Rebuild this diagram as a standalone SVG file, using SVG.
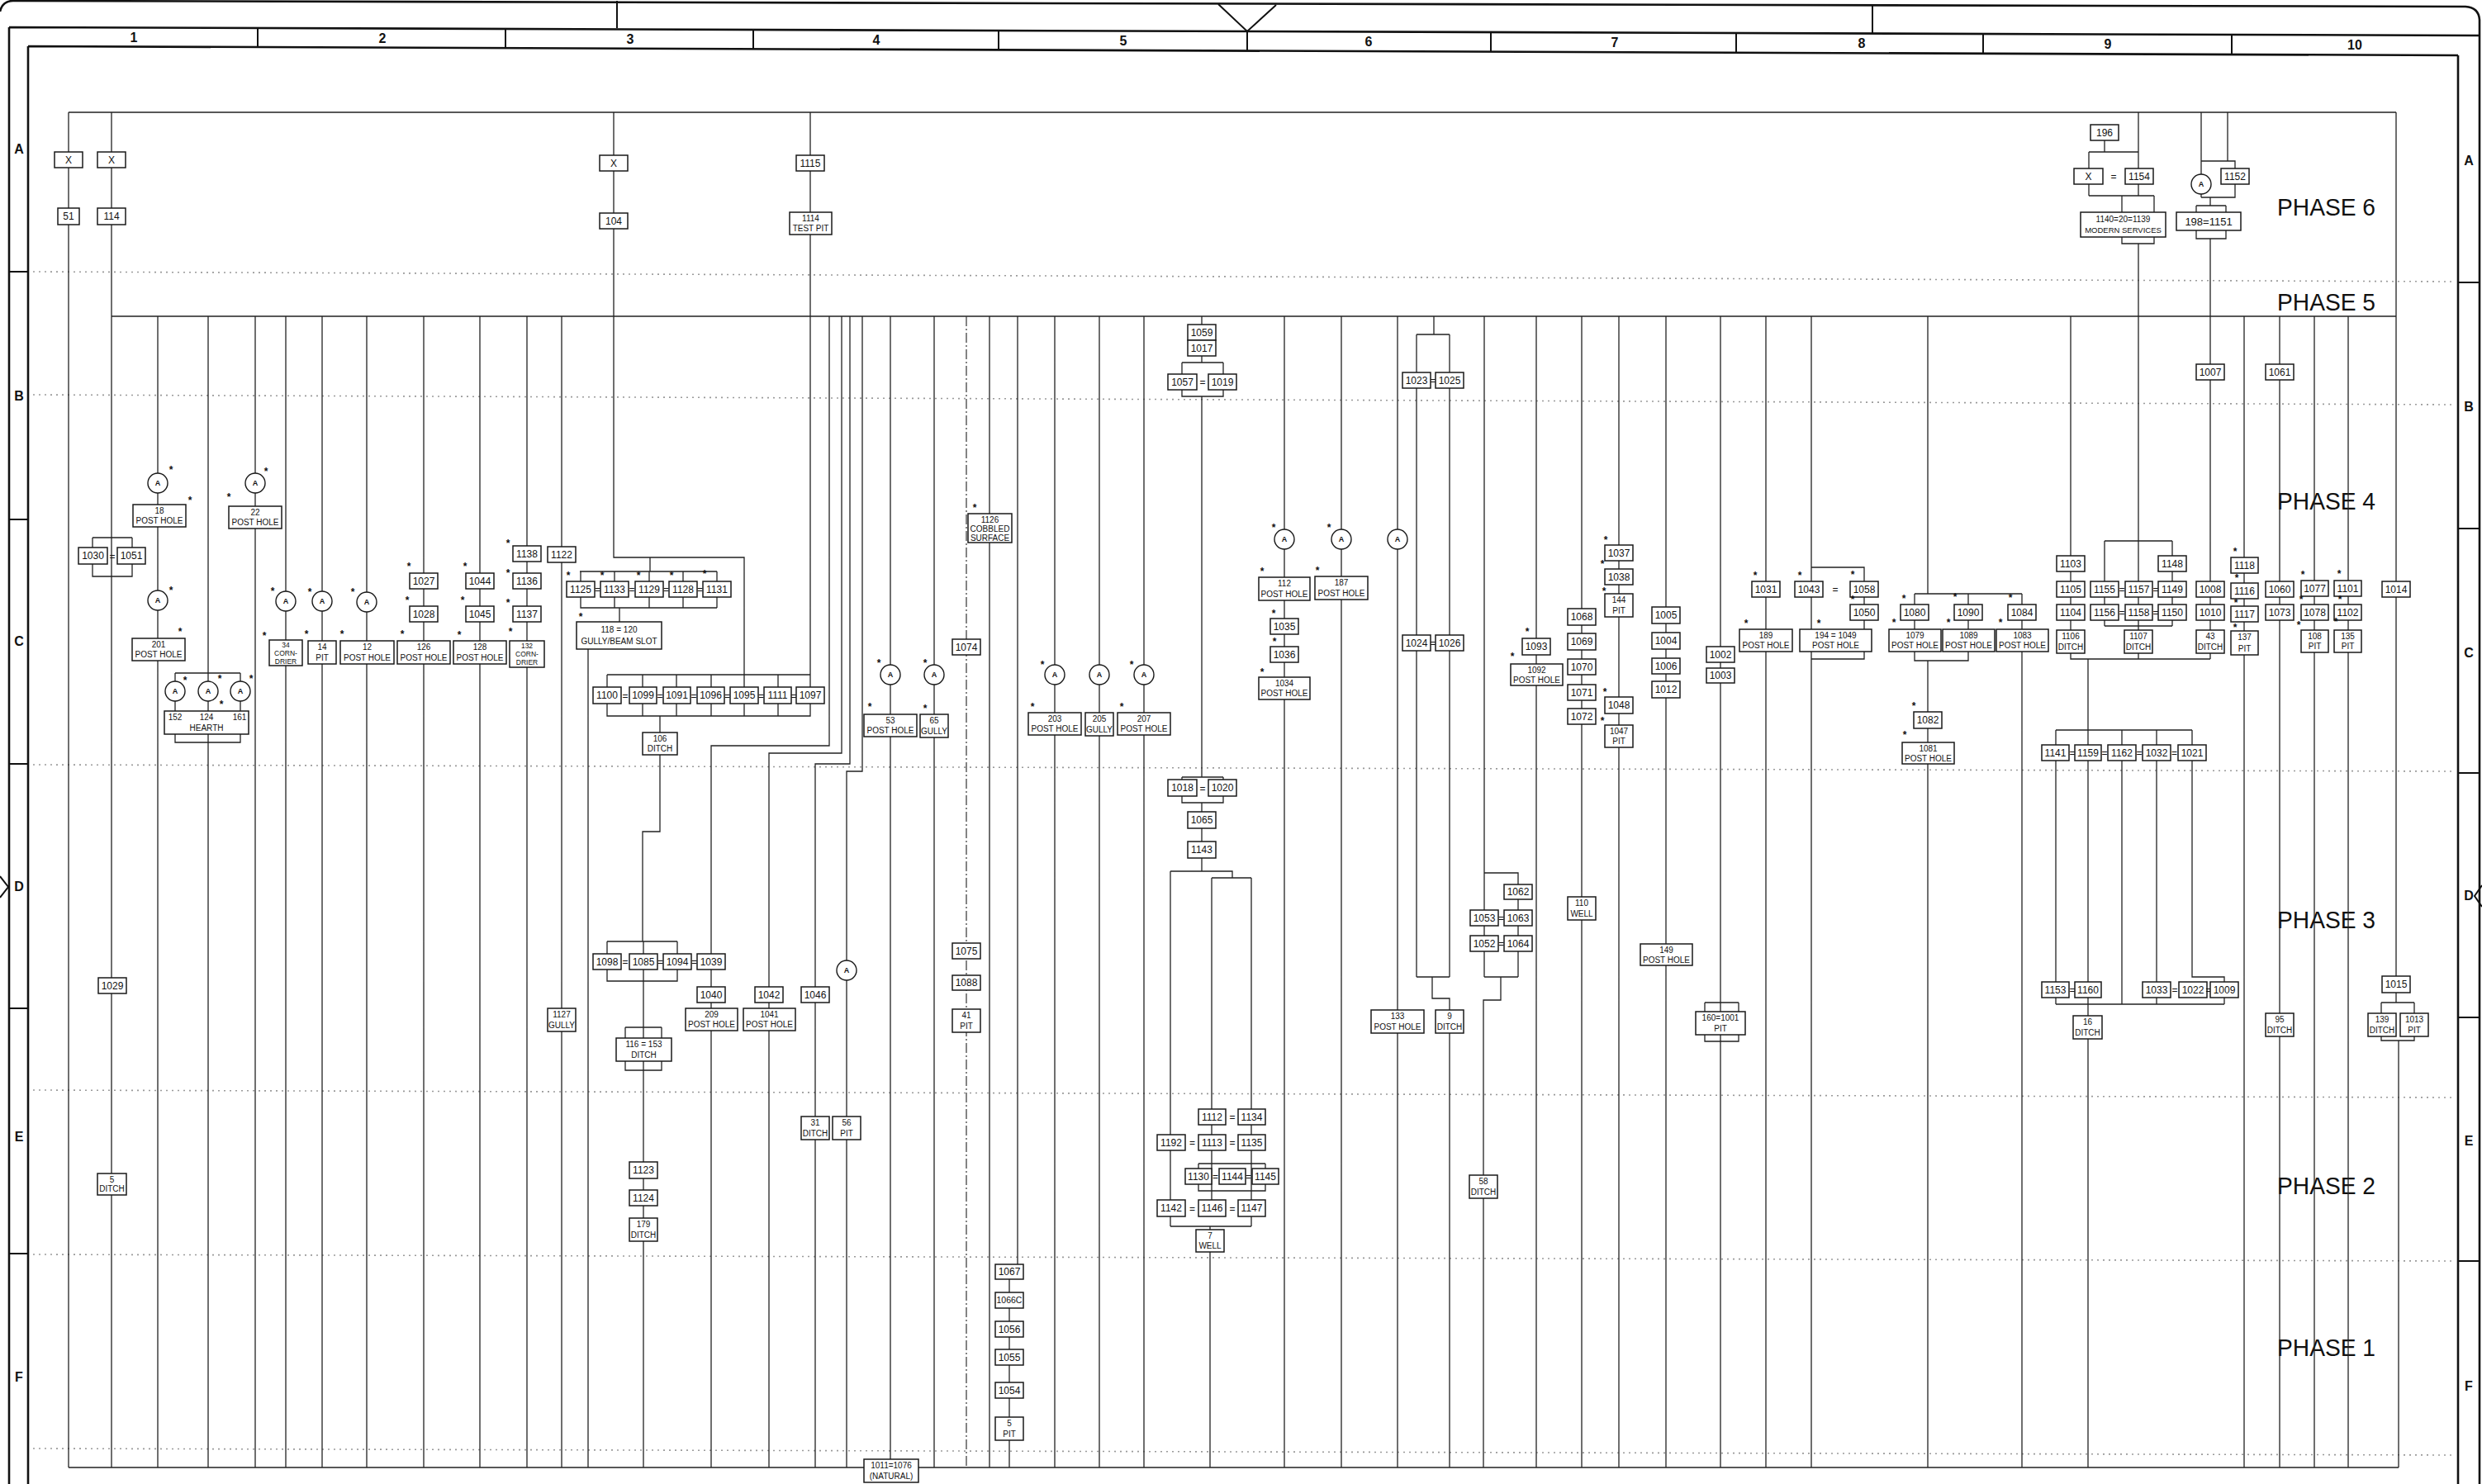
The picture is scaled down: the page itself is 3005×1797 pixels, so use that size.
<svg xmlns="http://www.w3.org/2000/svg" width="3005" height="1797" viewBox="0 0 3005 1797">
<style>
.fr{fill:none;stroke:#111;stroke-width:2.6}
.fr2{fill:none;stroke:#111;stroke-width:2}
.gd{fill:none;stroke:#9a9a9a;stroke-width:1.6;stroke-dasharray:2 5}
.l{fill:none;stroke:#222;stroke-width:1.3}
.dd{fill:none;stroke:#333;stroke-width:1.2;stroke-dasharray:12 3 2 3}
.b{fill:#fff;stroke:#1a1a1a;stroke-width:1.5}
.c{fill:#fff;stroke:#1a1a1a;stroke-width:1.4}
text{font-family:"Liberation Sans",Arial,sans-serif;fill:#111}
.t{font-size:12px;text-anchor:middle}
.t2{font-size:10px;text-anchor:middle}
.t3{font-size:8.5px;text-anchor:middle}
.ca{font-size:9px;text-anchor:middle;font-weight:bold}
.eq{font-size:12px;text-anchor:middle}
.s{font-size:12px;font-weight:bold;text-anchor:middle}
.ph{font-size:29px}
.hd{font-size:16px;font-weight:bold;text-anchor:middle}
</style>
<rect width="3005" height="1797" fill="#fff"/>
<g id="frame">
<path class="fr" d="M0 14Q3 1 16 1L2985 8Q3001 9 3002 24V1797 M11 33L3002 43 M11 33V1797 M34 56L2976 67 M34 56V1797 M2976 67V1797"/>
<path class="fr2" d="M312 34V57 M612 35V58 M912 36V59 M1209 37V60 M1510 38V61 M1805 39V63 M2102 40V64 M2401 41V65 M2702 42V66 M747 1V34 M2267 7V41 M1475 5L1510 38L1545 6 M11 329H34 M11 629H34 M11 925H34 M11 1221H34 M11 1518H34 M2976 342H3002 M2976 640H3002 M2976 936H3002 M2976 1232H3002 M2976 1527H3002 M0 1061L10 1074L0 1087 M3005 1072L2996 1085L3005 1098"/>
<text class="hd" x="162" y="51">1</text><text class="hd" x="463" y="52">2</text><text class="hd" x="763" y="53">3</text><text class="hd" x="1061" y="54">4</text><text class="hd" x="1360" y="55">5</text><text class="hd" x="1657" y="56">6</text><text class="hd" x="1955" y="57">7</text><text class="hd" x="2254" y="58">8</text><text class="hd" x="2552" y="59">9</text><text class="hd" x="2851" y="60">10</text>
<text class="hd" x="23" y="186">A</text><text class="hd" x="23" y="485">B</text><text class="hd" x="23" y="782">C</text><text class="hd" x="23" y="1079">D</text><text class="hd" x="23" y="1382">E</text><text class="hd" x="23" y="1673">F</text>
<text class="hd" x="2989" y="200">A</text><text class="hd" x="2989" y="498">B</text><text class="hd" x="2989" y="796">C</text><text class="hd" x="2989" y="1090">D</text><text class="hd" x="2989" y="1387">E</text><text class="hd" x="2989" y="1684">F</text>
</g>
<g id="guides">
<path class="gd" d="M40 329L2970 341 M40 478L2970 490 M40 926L2970 934 M40 1320L2970 1329 M40 1519L2970 1527 M40 1754L2970 1762"/>
</g>
<g id="phases">
<text class="ph" x="2757" y="261" textLength="119" lengthAdjust="spacingAndGlyphs">PHASE 6</text>
<text class="ph" x="2757" y="376" textLength="119" lengthAdjust="spacingAndGlyphs">PHASE 5</text>
<text class="ph" x="2757" y="617" textLength="119" lengthAdjust="spacingAndGlyphs">PHASE 4</text>
<text class="ph" x="2757" y="1124" textLength="119" lengthAdjust="spacingAndGlyphs">PHASE 3</text>
<text class="ph" x="2757" y="1446" textLength="119" lengthAdjust="spacingAndGlyphs">PHASE 2</text>
<text class="ph" x="2757" y="1642" textLength="119" lengthAdjust="spacingAndGlyphs">PHASE 1</text>
</g>
<g id="connectors">
<path class="l" d="M83 136H2901 M135 383H2901 M83 1777H2904 M83 136V1777 M135 136V1777 M112 651H160 M112 651V663 M160 651V663 M112 683V698H160V683 M743 136V675H901V817 M787 675V692 M981 136V832 M2901 136V1214 M2883 1214H2923 M2883 1214V1227 M2923 1214V1227 M2883 1255V1260H2923V1255 M2904 1260V1777 M191 383V1777 M252 383V1777 M309 383V1777 M346 383V1777 M390 383V1777 M444 383V1777 M513 383V1777 M581 383V1777 M638 383V1777 M680 383V1777 M212 815H291 M212 815V861 M291 815V861 M212 889V899H291V889 M712 786V1777 M702 692H868 M703 692V704 M744 692V704 M786 692V704 M827 692V704 M868 692V704 M703 723V736H868 M744 723V736 M786 723V736 M827 723V736 M868 723V736 M750 736V753 M735 817H981 M735 817V832 M778 817V832 M819 817V832 M861 817V832 M901 817V832 M942 817V832 M735 852V867H981V852 M778 852V867 M819 852V867 M861 852V867 M901 852V867 M942 852V867 M799 867V887 M799 914V1007H778V1140 M735 1140H820 M735 1140V1155 M779 1140V1155 M820 1140V1155 M735 1174V1188H820V1174 M779 1174V1257 M757 1244H801 M757 1244V1257 M801 1244V1257 M757 1285V1296H801V1285 M779 1285V1777 M1004 383V903H861V1777 M1019 383V912H931V1777 M1029 383V925H987V1777 M1044 383V934H1025V1777 M1078 383V1767 M1131 383V1777 M1198 383V1777 M1232 383V1531 M1222 1531V1777 M1277 383V1777 M1331 383V1777 M1385 383V1777 M1455 383V439 M1431 439H1481 M1431 439V453 M1481 439V453 M1431 472V480H1481V472 M1455 480V941 M1431 941H1481 M1431 941V944 M1481 941V944 M1431 964V972H1481V964 M1455 972V1055 M1417 1055H1492V1063 M1467 1063H1515 M1417 1055V1485 M1467 1063V1473 M1515 1063V1485 M1417 1485H1515 M1465 1485V1777 M1451 1409H1532 M1451 1409V1415 M1532 1409V1415 M1451 1434V1442H1532V1434 M1555 383V1777 M1624 383V1777 M1692 383V1777 M1736 383V405 M1715 405H1755 M1715 405V1183 M1755 405V1183 M1715 1183H1755 M1734 1183V1209H1755V1777 M1797 383V1183 M1797 1057H1838V1183 M1797 1183H1838 M1817 1183V1211H1796V1777 M1860 383V1777 M1915 383V1777 M1960 383V1777 M2017 383V1777 M2083 383V1777 M2138 383V1777 M2193 383V1777 M2064 1214H2105 M2064 1214V1225 M2105 1214V1225 M2064 1253V1261H2105V1253 M2193 687H2257V798H2193 M2334 383V719 M2318 719H2448 M2318 719V762 M2383 719V762 M2448 719V1777 M2318 789V800H2383V789 M2334 800V1777 M2507 383V798H2676 M2589 136V184 M2548 170V184 M2529 184H2589 M2529 184V237 M2589 184V237 M2529 237H2608 M2569 237V295H2608V237 M2589 295V655 M2548 655H2630 M2548 655V758 M2589 655V798 M2630 655V758 M2548 758H2630 M2665 136V211 M2665 235V239 M2697 136V195 M2665 195H2706V239H2665 M2676 239V249 M2659 249H2695 M2659 249V257 M2695 249V257 M2659 279V289H2695V279 M2676 289V798 M2528 798V884 M2489 884H2654 M2489 884V1216 M2528 884V1216 M2569 884V1216 M2611 884V1216 M2654 884V1183H2693V1216 M2489 1216H2693 M2528 1216V1777 M2717 383V1777 M2760 383V1777 M2802 383V1777 M2843 383V1777"/>
<path class="dd" d="M1170 383V1777"/>
</g>
<g id="nodes">
<g id="nX1"><rect class="b" x="66" y="184" width="34" height="19"/><text class="t" x="83" y="198">X</text></g>
<g id="nX2"><rect class="b" x="118" y="184" width="34" height="19"/><text class="t" x="135" y="198">X</text></g>
<g id="n51"><rect class="b" x="70" y="252" width="26" height="20"/><text class="t" x="83" y="266">51</text></g>
<g id="n114"><rect class="b" x="118" y="252" width="34" height="20"/><text class="t" x="135" y="266">114</text></g>
<g id="nX3"><rect class="b" x="726" y="188" width="34" height="19"/><text class="t" x="743" y="202">X</text></g>
<g id="n104"><rect class="b" x="726" y="258" width="34" height="19"/><text class="t" x="743" y="272">104</text></g>
<g id="n1115"><rect class="b" x="964" y="188" width="34" height="19"/><text class="t" x="981" y="202">1115</text></g>
<g id="n1114"><rect class="b" x="956" y="257" width="51" height="27"/><text class="t2" x="981.5" y="268">1114</text><text class="t2" x="981.5" y="280">TEST PIT</text></g>
<g id="n196"><rect class="b" x="2531" y="151" width="34" height="19"/><text class="t" x="2548" y="165">196</text></g>
<g id="nX4"><rect class="b" x="2511" y="204" width="35" height="19"/><text class="t" x="2528.5" y="218">X</text><text class="eq" x="2559" y="218">=</text></g>
<g id="n1154"><rect class="b" x="2573" y="204" width="34" height="19"/><text class="t" x="2590" y="218">1154</text></g>
<g id="n1140"><rect class="b" x="2519" y="257" width="103" height="30"/><text class="t2" x="2570.5" y="269">1140=20=1139</text><text class="t2" x="2570.5" y="282" style="font-size:9.5px">MODERN SERVICES</text></g>
<g id="n1152"><rect class="b" x="2689" y="204" width="34" height="19"/><text class="t" x="2706" y="218">1152</text></g>
<g id="n198"><rect class="b" x="2635" y="257" width="78" height="22"/><text class="t" x="2674" y="272.5" style="font-size:13px">198=1151</text></g>
<g id="n1007"><rect class="b" x="2659" y="441" width="34" height="19"/><text class="t" x="2676" y="455">1007</text></g>
<g id="n1061"><rect class="b" x="2743" y="441" width="34" height="19"/><text class="t" x="2760" y="455">1061</text></g>
<g id="n1059"><rect class="b" x="1438" y="393" width="34" height="19"/><text class="t" x="1455" y="407">1059</text></g>
<g id="n1017"><rect class="b" x="1438" y="412" width="34" height="19"/><text class="t" x="1455" y="426">1017</text></g>
<g id="n1057"><rect class="b" x="1414" y="453" width="35" height="19"/><text class="t" x="1431.5" y="467">1057</text><text class="eq" x="1456" y="467">=</text></g>
<g id="n1019"><rect class="b" x="1463" y="453" width="34" height="19"/><text class="t" x="1480" y="467">1019</text></g>
<g id="n1023"><rect class="b" x="1698" y="451" width="34" height="19"/><text class="t" x="1715" y="465">1023</text><text class="eq" x="1735" y="465">=</text></g>
<g id="n1025"><rect class="b" x="1738" y="451" width="34" height="19"/><text class="t" x="1755" y="465">1025</text></g>
<g id="n18"><rect class="b" x="161" y="611" width="64" height="27"/><text class="t2" x="193" y="622">18</text><text class="t2" x="193" y="634">POST HOLE</text></g>
<g id="n22"><rect class="b" x="277" y="613" width="64" height="27"/><text class="t2" x="309" y="624">22</text><text class="t2" x="309" y="636">POST HOLE</text></g>
<g id="n1030"><rect class="b" x="95" y="663" width="35" height="20"/><text class="t" x="112.5" y="677">1030</text><text class="eq" x="136" y="678">=</text></g>
<g id="n1051"><rect class="b" x="142" y="663" width="34" height="20"/><text class="t" x="159" y="677">1051</text></g>
<g id="n201"><rect class="b" x="160" y="773" width="64" height="27"/><text class="t2" x="192" y="784">201</text><text class="t2" x="192" y="796">POST HOLE</text></g>
<g id="nHearth"><rect class="b" x="199" y="861" width="102" height="28"/><text class="t2" x="212" y="872">152</text><text class="t2" x="250" y="872">124</text><text class="t2" x="290" y="872">161</text><text class="t2" x="250" y="885">HEARTH</text></g>
<g id="n1029"><rect class="b" x="119" y="1184" width="34" height="19"/><text class="t" x="136" y="1198">1029</text></g>
<g id="n5d"><rect class="b" x="118" y="1421" width="35" height="26"/><text class="t2" x="135.5" y="1432">5</text><text class="t2" x="135.5" y="1443">DITCH</text></g>
<g id="n34"><rect class="b" x="326" y="775" width="40" height="31"/><text class="t3" x="346" y="784">34</text><text class="t3" x="346" y="794">CORN-</text><text class="t3" x="346" y="804">DRIER</text></g>
<g id="n14"><rect class="b" x="373" y="776" width="34" height="28"/><text class="t2" x="390" y="787">14</text><text class="t2" x="390" y="800">PIT</text></g>
<g id="n12"><rect class="b" x="412" y="776" width="65" height="28"/><text class="t2" x="444.5" y="787">12</text><text class="t2" x="444.5" y="800">POST HOLE</text></g>
<g id="n1027"><rect class="b" x="496" y="694" width="34" height="19"/><text class="t" x="513" y="708">1027</text></g>
<g id="n1028"><rect class="b" x="496" y="734" width="34" height="19"/><text class="t" x="513" y="748">1028</text></g>
<g id="n126"><rect class="b" x="481" y="776" width="64" height="28"/><text class="t2" x="513" y="787">126</text><text class="t2" x="513" y="800">POST HOLE</text></g>
<g id="n1044"><rect class="b" x="564" y="694" width="34" height="19"/><text class="t" x="581" y="708">1044</text></g>
<g id="n1045"><rect class="b" x="564" y="734" width="34" height="19"/><text class="t" x="581" y="748">1045</text></g>
<g id="n128"><rect class="b" x="549" y="776" width="64" height="28"/><text class="t2" x="581" y="787">128</text><text class="t2" x="581" y="800">POST HOLE</text></g>
<g id="n1138"><rect class="b" x="621" y="661" width="34" height="19"/><text class="t" x="638" y="675">1138</text></g>
<g id="n1136"><rect class="b" x="621" y="694" width="34" height="19"/><text class="t" x="638" y="708">1136</text></g>
<g id="n1137"><rect class="b" x="621" y="734" width="34" height="19"/><text class="t" x="638" y="748">1137</text></g>
<g id="n132"><rect class="b" x="617" y="776" width="42" height="32"/><text class="t3" x="638" y="785">132</text><text class="t3" x="638" y="795">CORN-</text><text class="t3" x="638" y="805">DRIER</text></g>
<g id="n1122"><rect class="b" x="663" y="662" width="34" height="19"/><text class="t" x="680" y="676">1122</text></g>
<g id="n1127"><rect class="b" x="663" y="1221" width="34" height="28"/><text class="t2" x="680" y="1232">1127</text><text class="t2" x="680" y="1245">GULLY</text></g>
<g id="n1125"><rect class="b" x="686" y="704" width="34" height="19"/><text class="t" x="703" y="718">1125</text><text class="eq" x="723.5" y="718">=</text></g>
<g id="n1133"><rect class="b" x="727" y="704" width="34" height="19"/><text class="t" x="744" y="718">1133</text><text class="eq" x="765" y="718">=</text></g>
<g id="n1129"><rect class="b" x="769" y="704" width="34" height="19"/><text class="t" x="786" y="718">1129</text><text class="eq" x="806.5" y="718">=</text></g>
<g id="n1128"><rect class="b" x="810" y="704" width="34" height="19"/><text class="t" x="827" y="718">1128</text><text class="eq" x="847.5" y="718">=</text></g>
<g id="n1131"><rect class="b" x="851" y="704" width="34" height="19"/><text class="t" x="868" y="718">1131</text></g>
<g id="n118"><rect class="b" x="698" y="753" width="103" height="33"/><text class="t2" x="749.5" y="766">118 = 120</text><text class="t2" x="749.5" y="780">GULLY/BEAM SLOT</text></g>
<g id="n1100"><rect class="b" x="718" y="832" width="34" height="20"/><text class="t" x="735" y="846">1100</text><text class="eq" x="757" y="847">=</text></g>
<g id="n1099"><rect class="b" x="762" y="832" width="33" height="20"/><text class="t" x="778.5" y="846">1099</text><text class="eq" x="799" y="847">=</text></g>
<g id="n1091"><rect class="b" x="803" y="832" width="33" height="20"/><text class="t" x="819.5" y="846">1091</text><text class="eq" x="840" y="847">=</text></g>
<g id="n1096"><rect class="b" x="844" y="832" width="33" height="20"/><text class="t" x="860.5" y="846">1096</text><text class="eq" x="880.5" y="847">=</text></g>
<g id="n1095"><rect class="b" x="884" y="832" width="34" height="20"/><text class="t" x="901" y="846">1095</text><text class="eq" x="921.5" y="847">=</text></g>
<g id="n1111"><rect class="b" x="925" y="832" width="33" height="20"/><text class="t" x="941.5" y="846">1111</text><text class="eq" x="961" y="847">=</text></g>
<g id="n1097"><rect class="b" x="964" y="832" width="34" height="20"/><text class="t" x="981" y="846">1097</text></g>
<g id="n106"><rect class="b" x="778" y="887" width="42" height="27"/><text class="t2" x="799" y="898">106</text><text class="t2" x="799" y="910">DITCH</text></g>
<g id="n1098"><rect class="b" x="718" y="1155" width="34" height="19"/><text class="t" x="735" y="1169">1098</text><text class="eq" x="757" y="1169">=</text></g>
<g id="n1085"><rect class="b" x="762" y="1155" width="34" height="19"/><text class="t" x="779" y="1169">1085</text><text class="eq" x="799.5" y="1169">=</text></g>
<g id="n1094"><rect class="b" x="803" y="1155" width="34" height="19"/><text class="t" x="820" y="1169">1094</text><text class="eq" x="840.5" y="1169">=</text></g>
<g id="n1039"><rect class="b" x="844" y="1155" width="34" height="19"/><text class="t" x="861" y="1169">1039</text></g>
<g id="n1040"><rect class="b" x="844" y="1195" width="34" height="19"/><text class="t" x="861" y="1209">1040</text></g>
<g id="n209"><rect class="b" x="830" y="1221" width="63" height="27"/><text class="t2" x="861.5" y="1232">209</text><text class="t2" x="861.5" y="1244">POST HOLE</text></g>
<g id="n1042"><rect class="b" x="914" y="1195" width="34" height="19"/><text class="t" x="931" y="1209">1042</text></g>
<g id="n1041"><rect class="b" x="900" y="1221" width="63" height="27"/><text class="t2" x="931.5" y="1232">1041</text><text class="t2" x="931.5" y="1244">POST HOLE</text></g>
<g id="n1046"><rect class="b" x="970" y="1195" width="34" height="19"/><text class="t" x="987" y="1209">1046</text></g>
<g id="n31"><rect class="b" x="970" y="1352" width="34" height="28"/><text class="t2" x="987" y="1363">31</text><text class="t2" x="987" y="1376">DITCH</text></g>
<g id="n56"><rect class="b" x="1008" y="1352" width="34" height="28"/><text class="t2" x="1025" y="1363">56</text><text class="t2" x="1025" y="1376">PIT</text></g>
<g id="n116"><rect class="b" x="746" y="1257" width="67" height="28"/><text class="t2" x="779.5" y="1268">116 = 153</text><text class="t2" x="779.5" y="1281">DITCH</text></g>
<g id="n1123"><rect class="b" x="762" y="1407" width="34" height="20"/><text class="t" x="779" y="1421">1123</text></g>
<g id="n1124"><rect class="b" x="762" y="1441" width="34" height="19"/><text class="t" x="779" y="1455">1124</text></g>
<g id="n179"><rect class="b" x="762" y="1475" width="34" height="28"/><text class="t2" x="779" y="1486">179</text><text class="t2" x="779" y="1499">DITCH</text></g>
<g id="n53"><rect class="b" x="1046" y="865" width="64" height="27"/><text class="t2" x="1078" y="876">53</text><text class="t2" x="1078" y="888">POST HOLE</text></g>
<g id="n65"><rect class="b" x="1114" y="865" width="34" height="28"/><text class="t2" x="1131" y="876">65</text><text class="t2" x="1131" y="889">GULLY</text></g>
<g id="n1126"><rect class="b" x="1172" y="622" width="53" height="35"/><text class="t2" x="1198.5" y="633">1126</text><text class="t2" x="1198.5" y="644">COBBLED</text><text class="t2" x="1198.5" y="655">SURFACE</text></g>
<g id="n1074"><rect class="b" x="1153" y="774" width="34" height="19"/><text class="t" x="1170" y="788">1074</text></g>
<g id="n1075"><rect class="b" x="1153" y="1142" width="34" height="19"/><text class="t" x="1170" y="1156">1075</text></g>
<g id="n1088"><rect class="b" x="1153" y="1181" width="34" height="18"/><text class="t" x="1170" y="1194">1088</text></g>
<g id="n41"><rect class="b" x="1153" y="1222" width="34" height="28"/><text class="t2" x="1170" y="1233">41</text><text class="t2" x="1170" y="1246">PIT</text></g>
<g id="n1067"><rect class="b" x="1205" y="1531" width="34" height="18"/><text class="t" x="1222" y="1544">1067</text></g>
<g id="n1066C"><rect class="b" x="1205" y="1565" width="34" height="19"/><text class="t" x="1222" y="1578" style="font-size:10.5px">1066C</text></g>
<g id="n1056"><rect class="b" x="1205" y="1600" width="34" height="19"/><text class="t" x="1222" y="1614">1056</text></g>
<g id="n1055"><rect class="b" x="1205" y="1634" width="34" height="19"/><text class="t" x="1222" y="1648">1055</text></g>
<g id="n1054"><rect class="b" x="1205" y="1674" width="34" height="19"/><text class="t" x="1222" y="1688">1054</text></g>
<g id="n5p"><rect class="b" x="1205" y="1716" width="34" height="28"/><text class="t2" x="1222" y="1727">5</text><text class="t2" x="1222" y="1740">PIT</text></g>
<g id="n203"><rect class="b" x="1245" y="863" width="64" height="27"/><text class="t2" x="1277" y="874">203</text><text class="t2" x="1277" y="886">POST HOLE</text></g>
<g id="n205"><rect class="b" x="1314" y="863" width="34" height="28"/><text class="t2" x="1331" y="874">205</text><text class="t2" x="1331" y="887">GULLY</text></g>
<g id="n207"><rect class="b" x="1353" y="863" width="64" height="27"/><text class="t2" x="1385" y="874">207</text><text class="t2" x="1385" y="886">POST HOLE</text></g>
<g id="n1018"><rect class="b" x="1414" y="944" width="35" height="20"/><text class="t" x="1431.5" y="958">1018</text><text class="eq" x="1456" y="959">=</text></g>
<g id="n1020"><rect class="b" x="1463" y="944" width="34" height="20"/><text class="t" x="1480" y="958">1020</text></g>
<g id="n1065"><rect class="b" x="1438" y="983" width="34" height="20"/><text class="t" x="1455" y="997">1065</text></g>
<g id="n1143"><rect class="b" x="1438" y="1019" width="34" height="20"/><text class="t" x="1455" y="1033">1143</text></g>
<g id="n1112"><rect class="b" x="1451" y="1343" width="33" height="19"/><text class="t" x="1467.5" y="1357">1112</text><text class="eq" x="1492" y="1357">=</text></g>
<g id="n1134"><rect class="b" x="1499" y="1343" width="33" height="19"/><text class="t" x="1515.5" y="1357">1134</text></g>
<g id="n1192"><rect class="b" x="1401" y="1374" width="34" height="19"/><text class="t" x="1418" y="1388">1192</text><text class="eq" x="1443.5" y="1388">=</text></g>
<g id="n1113"><rect class="b" x="1451" y="1374" width="33" height="19"/><text class="t" x="1467.5" y="1388">1113</text><text class="eq" x="1492" y="1388">=</text></g>
<g id="n1135"><rect class="b" x="1499" y="1374" width="33" height="19"/><text class="t" x="1515.5" y="1388">1135</text></g>
<g id="n1130"><rect class="b" x="1435" y="1415" width="32" height="19"/><text class="t" x="1451" y="1429">1130</text><text class="eq" x="1471.5" y="1429">=</text></g>
<g id="n1144"><rect class="b" x="1476" y="1415" width="32" height="19"/><text class="t" x="1492" y="1429">1144</text><text class="eq" x="1511.5" y="1429">=</text></g>
<g id="n1145"><rect class="b" x="1516" y="1415" width="32" height="19"/><text class="t" x="1532" y="1429">1145</text></g>
<g id="n1142"><rect class="b" x="1401" y="1453" width="34" height="20"/><text class="t" x="1418" y="1467">1142</text><text class="eq" x="1443.5" y="1468">=</text></g>
<g id="n1146"><rect class="b" x="1451" y="1453" width="33" height="20"/><text class="t" x="1467.5" y="1467">1146</text><text class="eq" x="1492" y="1468">=</text></g>
<g id="n1147"><rect class="b" x="1499" y="1453" width="33" height="20"/><text class="t" x="1515.5" y="1467">1147</text></g>
<g id="n7"><rect class="b" x="1448" y="1489" width="34" height="27"/><text class="t2" x="1465" y="1500">7</text><text class="t2" x="1465" y="1512">WELL</text></g>
<g id="n112"><rect class="b" x="1524" y="699" width="62" height="28"/><text class="t2" x="1555" y="710">112</text><text class="t2" x="1555" y="723">POST HOLE</text></g>
<g id="n1035"><rect class="b" x="1538" y="749" width="34" height="19"/><text class="t" x="1555" y="763">1035</text></g>
<g id="n1036"><rect class="b" x="1538" y="783" width="34" height="19"/><text class="t" x="1555" y="797">1036</text></g>
<g id="n1034"><rect class="b" x="1524" y="820" width="62" height="27"/><text class="t2" x="1555" y="831">1034</text><text class="t2" x="1555" y="843">POST HOLE</text></g>
<g id="n187"><rect class="b" x="1592" y="698" width="64" height="28"/><text class="t2" x="1624" y="709">187</text><text class="t2" x="1624" y="722">POST HOLE</text></g>
<g id="n133"><rect class="b" x="1660" y="1223" width="64" height="28"/><text class="t2" x="1692" y="1234">133</text><text class="t2" x="1692" y="1247">POST HOLE</text></g>
<g id="n1024"><rect class="b" x="1698" y="769" width="34" height="19"/><text class="t" x="1715" y="783">1024</text><text class="eq" x="1735" y="783">=</text></g>
<g id="n1026"><rect class="b" x="1738" y="769" width="34" height="19"/><text class="t" x="1755" y="783">1026</text></g>
<g id="n9"><rect class="b" x="1738" y="1223" width="34" height="28"/><text class="t2" x="1755" y="1234">9</text><text class="t2" x="1755" y="1247">DITCH</text></g>
<g id="n1062"><rect class="b" x="1821" y="1071" width="34" height="18"/><text class="t" x="1838" y="1084">1062</text></g>
<g id="n1053"><rect class="b" x="1780" y="1102" width="34" height="19"/><text class="t" x="1797" y="1116">1053</text><text class="eq" x="1817.5" y="1116">=</text></g>
<g id="n1063"><rect class="b" x="1821" y="1102" width="34" height="19"/><text class="t" x="1838" y="1116">1063</text></g>
<g id="n1052"><rect class="b" x="1780" y="1133" width="34" height="19"/><text class="t" x="1797" y="1147">1052</text><text class="eq" x="1817.5" y="1147">=</text></g>
<g id="n1064"><rect class="b" x="1821" y="1133" width="34" height="19"/><text class="t" x="1838" y="1147">1064</text></g>
<g id="n58"><rect class="b" x="1779" y="1423" width="34" height="28"/><text class="t2" x="1796" y="1434">58</text><text class="t2" x="1796" y="1447">DITCH</text></g>
<g id="n1093"><rect class="b" x="1843" y="773" width="34" height="20"/><text class="t" x="1860" y="787">1093</text></g>
<g id="n1092"><rect class="b" x="1829" y="804" width="63" height="26"/><text class="t2" x="1860.5" y="815">1092</text><text class="t2" x="1860.5" y="827">POST HOLE</text></g>
<g id="n1068"><rect class="b" x="1898" y="737" width="34" height="20"/><text class="t" x="1915" y="751">1068</text></g>
<g id="n1069"><rect class="b" x="1898" y="767" width="34" height="20"/><text class="t" x="1915" y="781">1069</text></g>
<g id="n1070"><rect class="b" x="1898" y="798" width="34" height="19"/><text class="t" x="1915" y="812">1070</text></g>
<g id="n1071"><rect class="b" x="1898" y="829" width="34" height="19"/><text class="t" x="1915" y="843">1071</text></g>
<g id="n1072"><rect class="b" x="1898" y="858" width="34" height="19"/><text class="t" x="1915" y="872">1072</text></g>
<g id="n110"><rect class="b" x="1898" y="1086" width="34" height="28"/><text class="t2" x="1915" y="1097">110</text><text class="t2" x="1915" y="1110">WELL</text></g>
<g id="n1037"><rect class="b" x="1943" y="660" width="34" height="19"/><text class="t" x="1960" y="674">1037</text></g>
<g id="n1038"><rect class="b" x="1943" y="689" width="34" height="19"/><text class="t" x="1960" y="703">1038</text></g>
<g id="n144"><rect class="b" x="1943" y="719" width="34" height="28"/><text class="t2" x="1960" y="730">144</text><text class="t2" x="1960" y="743">PIT</text></g>
<g id="n1048"><rect class="b" x="1943" y="844" width="34" height="20"/><text class="t" x="1960" y="858">1048</text></g>
<g id="n1047"><rect class="b" x="1943" y="878" width="34" height="27"/><text class="t2" x="1960" y="889">1047</text><text class="t2" x="1960" y="901">PIT</text></g>
<g id="n1005"><rect class="b" x="2000" y="735" width="34" height="20"/><text class="t" x="2017" y="749">1005</text></g>
<g id="n1004"><rect class="b" x="2000" y="766" width="34" height="20"/><text class="t" x="2017" y="780">1004</text></g>
<g id="n1006"><rect class="b" x="2000" y="797" width="34" height="19"/><text class="t" x="2017" y="811">1006</text></g>
<g id="n1012"><rect class="b" x="2000" y="825" width="34" height="20"/><text class="t" x="2017" y="839">1012</text></g>
<g id="n149"><rect class="b" x="1986" y="1143" width="63" height="26"/><text class="t2" x="2017.5" y="1154">149</text><text class="t2" x="2017.5" y="1166">POST HOLE</text></g>
<g id="n1002"><rect class="b" x="2066" y="783" width="34" height="19"/><text class="t" x="2083" y="797">1002</text></g>
<g id="n1003"><rect class="b" x="2066" y="809" width="34" height="18"/><text class="t" x="2083" y="822">1003</text></g>
<g id="n160"><rect class="b" x="2053" y="1225" width="60" height="28"/><text class="t2" x="2083" y="1236">160=1001</text><text class="t2" x="2083" y="1249">PIT</text></g>
<g id="n1031"><rect class="b" x="2121" y="704" width="34" height="19"/><text class="t" x="2138" y="718">1031</text></g>
<g id="n189"><rect class="b" x="2106" y="762" width="64" height="27"/><text class="t2" x="2138" y="773">189</text><text class="t2" x="2138" y="785">POST HOLE</text></g>
<g id="n1043"><rect class="b" x="2173" y="704" width="34" height="19"/><text class="t" x="2190" y="718">1043</text><text class="eq" x="2222" y="718">=</text></g>
<g id="n1058"><rect class="b" x="2240" y="704" width="34" height="19"/><text class="t" x="2257" y="718">1058</text></g>
<g id="n1050"><rect class="b" x="2240" y="732" width="34" height="19"/><text class="t" x="2257" y="746">1050</text></g>
<g id="n194"><rect class="b" x="2179" y="762" width="87" height="27"/><text class="t2" x="2222.5" y="773">194 = 1049</text><text class="t2" x="2222.5" y="785">POST HOLE</text></g>
<g id="n1080"><rect class="b" x="2301" y="732" width="34" height="19"/><text class="t" x="2318" y="746">1080</text></g>
<g id="n1090"><rect class="b" x="2366" y="732" width="34" height="19"/><text class="t" x="2383" y="746">1090</text></g>
<g id="n1084"><rect class="b" x="2431" y="732" width="34" height="19"/><text class="t" x="2448" y="746">1084</text></g>
<g id="n1079"><rect class="b" x="2287" y="762" width="63" height="27"/><text class="t2" x="2318.5" y="773">1079</text><text class="t2" x="2318.5" y="785">POST HOLE</text></g>
<g id="n1089"><rect class="b" x="2352" y="762" width="63" height="27"/><text class="t2" x="2383.5" y="773">1089</text><text class="t2" x="2383.5" y="785">POST HOLE</text></g>
<g id="n1083"><rect class="b" x="2417" y="762" width="63" height="27"/><text class="t2" x="2448.5" y="773">1083</text><text class="t2" x="2448.5" y="785">POST HOLE</text></g>
<g id="n1082"><rect class="b" x="2317" y="862" width="34" height="20"/><text class="t" x="2334" y="876">1082</text></g>
<g id="n1081"><rect class="b" x="2303" y="899" width="63" height="26"/><text class="t2" x="2334.5" y="910">1081</text><text class="t2" x="2334.5" y="922">POST HOLE</text></g>
<g id="n1103"><rect class="b" x="2490" y="673" width="34" height="19"/><text class="t" x="2507" y="687">1103</text></g>
<g id="n1105"><rect class="b" x="2490" y="704" width="34" height="19"/><text class="t" x="2507" y="718">1105</text></g>
<g id="n1104"><rect class="b" x="2490" y="732" width="34" height="19"/><text class="t" x="2507" y="746">1104</text></g>
<g id="n1106"><rect class="b" x="2490" y="763" width="34" height="28"/><text class="t2" x="2507" y="774">1106</text><text class="t2" x="2507" y="787">DITCH</text></g>
<g id="n1148"><rect class="b" x="2613" y="673" width="34" height="19"/><text class="t" x="2630" y="687">1148</text></g>
<g id="n1155"><rect class="b" x="2531" y="704" width="34" height="19"/><text class="t" x="2548" y="718">1155</text><text class="eq" x="2569" y="718">=</text></g>
<g id="n1157"><rect class="b" x="2573" y="704" width="33" height="19"/><text class="t" x="2589.5" y="718">1157</text><text class="eq" x="2610" y="718">=</text></g>
<g id="n1149"><rect class="b" x="2613" y="704" width="34" height="19"/><text class="t" x="2630" y="718">1149</text></g>
<g id="n1156"><rect class="b" x="2531" y="732" width="34" height="19"/><text class="t" x="2548" y="746">1156</text><text class="eq" x="2569" y="746">=</text></g>
<g id="n1158"><rect class="b" x="2573" y="732" width="33" height="19"/><text class="t" x="2589.5" y="746">1158</text><text class="eq" x="2610" y="746">=</text></g>
<g id="n1150"><rect class="b" x="2613" y="732" width="34" height="19"/><text class="t" x="2630" y="746">1150</text></g>
<g id="n1107"><rect class="b" x="2572" y="763" width="34" height="28"/><text class="t2" x="2589" y="774">1107</text><text class="t2" x="2589" y="787">DITCH</text></g>
<g id="n1008"><rect class="b" x="2659" y="704" width="34" height="19"/><text class="t" x="2676" y="718">1008</text></g>
<g id="n1010"><rect class="b" x="2659" y="732" width="34" height="19"/><text class="t" x="2676" y="746">1010</text></g>
<g id="n43"><rect class="b" x="2659" y="763" width="34" height="28"/><text class="t2" x="2676" y="774">43</text><text class="t2" x="2676" y="787">DITCH</text></g>
<g id="n1141"><rect class="b" x="2472" y="902" width="33" height="19"/><text class="t" x="2488.5" y="916">1141</text><text class="eq" x="2509" y="916">=</text></g>
<g id="n1159"><rect class="b" x="2512" y="902" width="32" height="19"/><text class="t" x="2528" y="916">1159</text><text class="eq" x="2548" y="916">=</text></g>
<g id="n1162"><rect class="b" x="2552" y="902" width="34" height="19"/><text class="t" x="2569" y="916">1162</text><text class="eq" x="2590" y="916">=</text></g>
<g id="n1032"><rect class="b" x="2594" y="902" width="34" height="19"/><text class="t" x="2611" y="916">1032</text><text class="eq" x="2632.5" y="916">=</text></g>
<g id="n1021"><rect class="b" x="2637" y="902" width="34" height="19"/><text class="t" x="2654" y="916">1021</text></g>
<g id="n1153"><rect class="b" x="2472" y="1189" width="33" height="19"/><text class="t" x="2488.5" y="1203">1153</text><text class="eq" x="2509" y="1203">=</text></g>
<g id="n1160"><rect class="b" x="2512" y="1189" width="32" height="19"/><text class="t" x="2528" y="1203">1160</text></g>
<g id="n1033"><rect class="b" x="2594" y="1189" width="34" height="19"/><text class="t" x="2611" y="1203">1033</text><text class="eq" x="2633" y="1203">=</text></g>
<g id="n1022"><rect class="b" x="2638" y="1189" width="34" height="19"/><text class="t" x="2655" y="1203">1022</text><text class="eq" x="2674" y="1203">=</text></g>
<g id="n1009"><rect class="b" x="2676" y="1189" width="34" height="19"/><text class="t" x="2693" y="1203">1009</text></g>
<g id="n16"><rect class="b" x="2510" y="1230" width="35" height="28"/><text class="t2" x="2527.5" y="1241">16</text><text class="t2" x="2527.5" y="1254">DITCH</text></g>
<g id="n1118"><rect class="b" x="2701" y="675" width="33" height="19"/><text class="t" x="2717.5" y="689">1118</text></g>
<g id="n1116"><rect class="b" x="2701" y="706" width="33" height="19"/><text class="t" x="2717.5" y="720">1116</text></g>
<g id="n1117"><rect class="b" x="2701" y="734" width="33" height="19"/><text class="t" x="2717.5" y="748">1117</text></g>
<g id="n137"><rect class="b" x="2701" y="764" width="33" height="29"/><text class="t2" x="2717.5" y="775">137</text><text class="t2" x="2717.5" y="789">PIT</text></g>
<g id="n1060"><rect class="b" x="2743" y="704" width="34" height="19"/><text class="t" x="2760" y="718">1060</text></g>
<g id="n1073"><rect class="b" x="2743" y="732" width="34" height="19"/><text class="t" x="2760" y="746">1073</text></g>
<g id="n95"><rect class="b" x="2743" y="1227" width="34" height="28"/><text class="t2" x="2760" y="1238">95</text><text class="t2" x="2760" y="1251">DITCH</text></g>
<g id="n1077"><rect class="b" x="2786" y="703" width="33" height="19"/><text class="t" x="2802.5" y="717">1077</text></g>
<g id="n1078"><rect class="b" x="2786" y="732" width="33" height="19"/><text class="t" x="2802.5" y="746">1078</text></g>
<g id="n108"><rect class="b" x="2786" y="763" width="33" height="27"/><text class="t2" x="2802.5" y="774">108</text><text class="t2" x="2802.5" y="786">PIT</text></g>
<g id="n1101"><rect class="b" x="2826" y="703" width="33" height="19"/><text class="t" x="2842.5" y="717">1101</text></g>
<g id="n1102"><rect class="b" x="2826" y="732" width="33" height="19"/><text class="t" x="2842.5" y="746">1102</text></g>
<g id="n135"><rect class="b" x="2826" y="763" width="33" height="27"/><text class="t2" x="2842.5" y="774">135</text><text class="t2" x="2842.5" y="786">PIT</text></g>
<g id="n1014"><rect class="b" x="2884" y="704" width="34" height="19"/><text class="t" x="2901" y="718">1014</text></g>
<g id="n1015"><rect class="b" x="2884" y="1182" width="34" height="20"/><text class="t" x="2901" y="1196">1015</text></g>
<g id="n139"><rect class="b" x="2867" y="1227" width="34" height="28"/><text class="t2" x="2884" y="1238">139</text><text class="t2" x="2884" y="1251">DITCH</text></g>
<g id="n1013"><rect class="b" x="2906" y="1227" width="34" height="28"/><text class="t2" x="2923" y="1238">1013</text><text class="t2" x="2923" y="1251">PIT</text></g>
<g id="nNatural"><rect class="b" x="1046" y="1767" width="66" height="28"/><text class="t2" x="1079" y="1778">1011=1076</text><text class="t2" x="1079" y="1791">(NATURAL)</text></g>
</g>
<g id="circles">
<g id="a1"><circle class="c" cx="191" cy="585" r="12"/><text class="ca" x="191" y="588">A</text></g>
<g id="a2"><circle class="c" cx="309" cy="585" r="12"/><text class="ca" x="309" y="588">A</text></g>
<g id="a3"><circle class="c" cx="191" cy="727" r="12"/><text class="ca" x="191" y="730">A</text></g>
<g id="a4"><circle class="c" cx="212" cy="837" r="12"/><text class="ca" x="212" y="840">A</text></g>
<g id="a5"><circle class="c" cx="252" cy="837" r="12"/><text class="ca" x="252" y="840">A</text></g>
<g id="a6"><circle class="c" cx="291" cy="837" r="12"/><text class="ca" x="291" y="840">A</text></g>
<g id="a7"><circle class="c" cx="346" cy="728" r="12"/><text class="ca" x="346" y="731">A</text></g>
<g id="a8"><circle class="c" cx="390" cy="728" r="12"/><text class="ca" x="390" y="731">A</text></g>
<g id="a9"><circle class="c" cx="444" cy="729" r="12"/><text class="ca" x="444" y="732">A</text></g>
<g id="a10"><circle class="c" cx="1078" cy="817" r="12"/><text class="ca" x="1078" y="820">A</text></g>
<g id="a11"><circle class="c" cx="1131" cy="817" r="12"/><text class="ca" x="1131" y="820">A</text></g>
<g id="a12"><circle class="c" cx="1277" cy="817" r="12"/><text class="ca" x="1277" y="820">A</text></g>
<g id="a13"><circle class="c" cx="1331" cy="817" r="12"/><text class="ca" x="1331" y="820">A</text></g>
<g id="a14"><circle class="c" cx="1385" cy="817" r="12"/><text class="ca" x="1385" y="820">A</text></g>
<g id="a15"><circle class="c" cx="1025" cy="1175" r="12"/><text class="ca" x="1025" y="1178">A</text></g>
<g id="a16"><circle class="c" cx="1555" cy="653" r="12"/><text class="ca" x="1555" y="656">A</text></g>
<g id="a17"><circle class="c" cx="1624" cy="653" r="12"/><text class="ca" x="1624" y="656">A</text></g>
<g id="a18"><circle class="c" cx="1692" cy="653" r="12"/><text class="ca" x="1692" y="656">A</text></g>
<g id="a19"><circle class="c" cx="2665" cy="223" r="12"/><text class="ca" x="2665" y="226">A</text></g>
</g>
<g id="stars">
<text class="s" x="207" y="573">*</text><text class="s" x="230" y="610">*</text><text class="s" x="322" y="575">*</text><text class="s" x="277" y="606">*</text>
<text class="s" x="207" y="719">*</text><text class="s" x="218" y="769">*</text>
<text class="s" x="224" y="828">*</text><text class="s" x="266" y="826">*</text><text class="s" x="304" y="826">*</text><text class="s" x="268" y="857">*</text>
<text class="s" x="330" y="720">*</text><text class="s" x="320" y="774">*</text>
<text class="s" x="375" y="721">*</text><text class="s" x="371" y="772">*</text>
<text class="s" x="427" y="721">*</text><text class="s" x="414" y="772">*</text>
<text class="s" x="495" y="690">*</text><text class="s" x="493" y="731">*</text><text class="s" x="487" y="772">*</text>
<text class="s" x="563" y="690">*</text><text class="s" x="560" y="731">*</text><text class="s" x="556" y="773">*</text>
<text class="s" x="615" y="662">*</text><text class="s" x="615" y="698">*</text><text class="s" x="615" y="734">*</text><text class="s" x="618" y="769">*</text>
<text class="s" x="688" y="701">*</text><text class="s" x="729" y="701">*</text><text class="s" x="773" y="701">*</text><text class="s" x="813" y="701">*</text><text class="s" x="853" y="699">*</text><text class="s" x="703" y="751">*</text>
<text class="s" x="1064" y="807">*</text><text class="s" x="1053" y="860">*</text><text class="s" x="1120" y="807">*</text><text class="s" x="1120" y="862">*</text><text class="s" x="1180" y="619">*</text>
<text class="s" x="1262" y="809">*</text><text class="s" x="1250" y="860">*</text><text class="s" x="1370" y="809">*</text><text class="s" x="1358" y="860">*</text>
<text class="s" x="1542" y="643">*</text><text class="s" x="1528" y="696">*</text><text class="s" x="1542" y="747">*</text><text class="s" x="1543" y="781">*</text><text class="s" x="1528" y="818">*</text>
<text class="s" x="1609" y="643">*</text><text class="s" x="1595" y="695">*</text>
<text class="s" x="1849" y="769">*</text><text class="s" x="1831" y="799">*</text>
<text class="s" x="1944" y="658">*</text><text class="s" x="1940" y="687">*</text><text class="s" x="1942" y="720">*</text><text class="s" x="1943" y="842">*</text><text class="s" x="1940" y="877">*</text>
<text class="s" x="2125" y="701">*</text><text class="s" x="2114" y="759">*</text>
<text class="s" x="2179" y="701">*</text><text class="s" x="2243" y="700">*</text><text class="s" x="2243" y="730">*</text><text class="s" x="2202" y="759">*</text>
<text class="s" x="2305" y="729">*</text><text class="s" x="2367" y="727">*</text><text class="s" x="2434" y="728">*</text><text class="s" x="2293" y="758">*</text><text class="s" x="2359" y="758">*</text><text class="s" x="2422" y="758">*</text>
<text class="s" x="2317" y="859">*</text><text class="s" x="2306" y="894">*</text>
<text class="s" x="2706" y="672">*</text><text class="s" x="2708" y="704">*</text><text class="s" x="2707" y="734">*</text><text class="s" x="2706" y="764">*</text>
<text class="s" x="2788" y="700">*</text><text class="s" x="2786" y="730">*</text><text class="s" x="2783" y="761">*</text>
<text class="s" x="2832" y="699">*</text><text class="s" x="2833" y="730">*</text><text class="s" x="2828" y="757">*</text>
</g>
</svg>
